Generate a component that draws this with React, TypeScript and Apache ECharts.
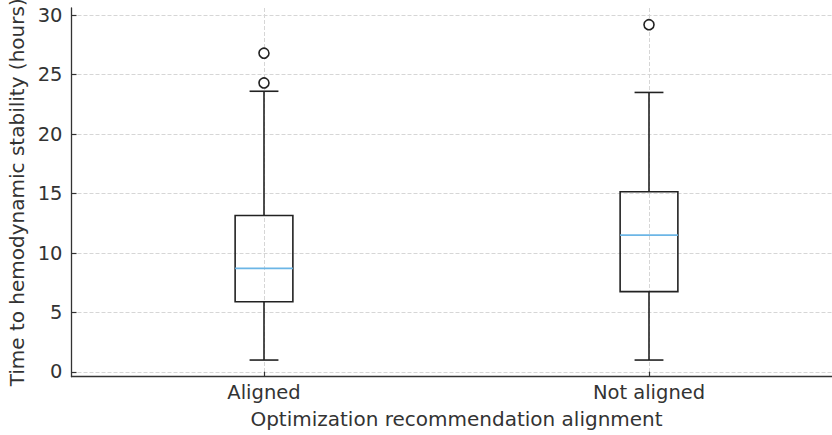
import React, { useEffect, useRef } from "react";
import * as echarts from "echarts";

const categories = ["Aligned", "Not aligned"];
const positions = [1, 2];
const lowerWhisker = [1.0, 1.0];
const q1 = [5.9, 6.75];
const median = [8.7, 11.5];
const q3 = [13.15, 15.15];
const upperWhisker = [23.6, 23.5];
const outlierPositions = [1, 1, 2];
const outlierValues = [24.3, 26.8, 29.2];
const yTicks = [0, 5, 10, 15, 20, 25, 30];

const FONT = "DejaVu Sans";
const TEXT = "#333333";
const GRID_LINE = { type: [4, 2] as number[], color: "#d6d6d6", width: 1 };

export default function App() {
  const ref = useRef<HTMLDivElement>(null);
  useEffect(() => {
    if (!ref.current) return;
    const chart = echarts.init(ref.current, null, { renderer: "svg" });
    const boxData = positions.map((p, i) => [p, lowerWhisker[i], q1[i], median[i], q3[i], upperWhisker[i]]);
    const outlierData = outlierPositions.map((p, i) => [p, outlierValues[i]]);
    chart.setOption({
      animation: false,
      backgroundColor: "#ffffff",
      grid: { left: 71.5, width: 770, top: 8, height: 368.7, containLabel: false, outerBoundsMode: "none" },
      xAxis: {
        type: "value",
        min: 0.5,
        max: 2.5,
        name: "Optimization recommendation alignment",
        nameLocation: "middle",
        nameGap: 32,
        nameTextStyle: { fontFamily: FONT, fontSize: 20, color: TEXT },
        axisLine: { show: true, onZero: false, lineStyle: { color: "#333", width: 1.3 } },
        axisTick: { show: true, inside: true, length: 5, customValues: positions, lineStyle: { color: "#333", width: 1.2 } },
        axisLabel: {
          customValues: positions,
          formatter: (v: number) => categories[positions.indexOf(v)] ?? "",
          fontFamily: FONT,
          fontSize: 19.5,
          color: TEXT,
          margin: 6,
        },
        splitLine: { show: true, lineStyle: GRID_LINE },
      },
      yAxis: {
        type: "value",
        min: -0.4,
        max: 30.6,
        name: "Time to hemodynamic stability (hours)",
        nameLocation: "middle",
        nameGap: 44,
        nameTextStyle: { fontFamily: FONT, fontSize: 20, color: TEXT },
        axisLine: { show: true, onZero: false, lineStyle: { color: "#333", width: 1.3 } },
        axisTick: { show: true, inside: true, length: 5, customValues: yTicks, lineStyle: { color: "#333", width: 1.2 } },
        axisLabel: { customValues: yTicks, fontFamily: FONT, fontSize: 19.5, color: TEXT, margin: 9 },
        splitLine: { show: true, lineStyle: GRID_LINE },
      },
      series: [
        {
          type: "custom",
          data: boxData,
          encode: { x: 0, y: [1, 2, 3, 4, 5] },
          renderItem: (_params: any, api: any) => {
            const x = api.value(0);
            const lo = api.coord([x, api.value(1)]);
            const b1 = api.coord([x, api.value(2)]);
            const md = api.coord([x, api.value(3)]);
            const b3 = api.coord([x, api.value(4)]);
            const hi = api.coord([x, api.value(5)]);
            const w = api.size([0.15, 0])[0];
            const cx = lo[0];
            const st = { stroke: "#222", lineWidth: 1.6, fill: "none" };
            return {
              type: "group",
              children: [
                { type: "line", shape: { x1: cx, y1: hi[1], x2: cx, y2: b3[1] }, style: st },
                { type: "line", shape: { x1: cx, y1: b1[1], x2: cx, y2: lo[1] }, style: st },
                { type: "line", shape: { x1: cx - w / 4, y1: hi[1], x2: cx + w / 4, y2: hi[1] }, style: st },
                { type: "line", shape: { x1: cx - w / 4, y1: lo[1], x2: cx + w / 4, y2: lo[1] }, style: st },
                { type: "rect", shape: { x: cx - w / 2, y: b3[1], width: w, height: b1[1] - b3[1] }, style: st },
                { type: "line", shape: { x1: cx - w / 2, y1: md[1], x2: cx + w / 2, y2: md[1] }, style: { stroke: "#6cb6e6", lineWidth: 1.8 } },
              ],
            };
          },
        },
        {
          type: "scatter",
          data: outlierData,
          symbol: "circle",
          symbolSize: 10,
          itemStyle: { color: "#ffffff", borderColor: "#222", borderWidth: 1.6, opacity: 1 },
        },
      ],
    });
    return () => chart.dispose();
  }, []);
  return <div ref={ref} style={{ position: "absolute", left: 0, top: 0, width: 832, height: 435 }} />;
}
